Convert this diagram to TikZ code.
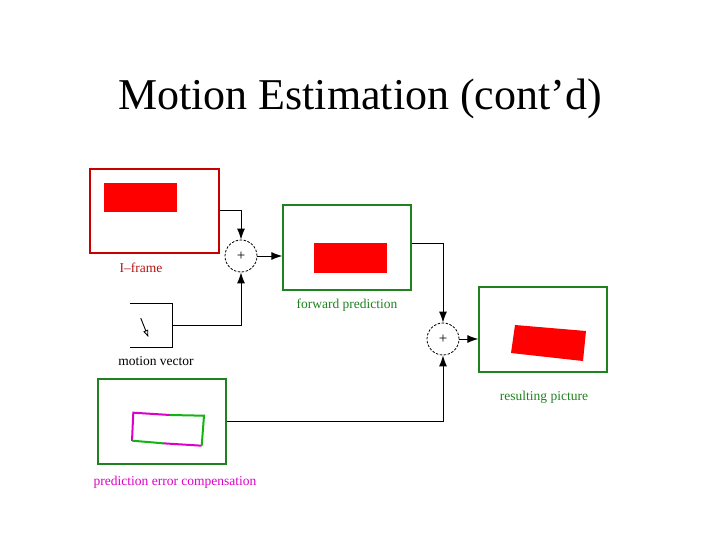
\documentclass[tikz,border=0pt]{standalone}
\usepackage{fontspec}
\setmainfont{Liberation Serif}
\usetikzlibrary{arrows.meta}
\definecolor{fgreen}{RGB}{30,130,30}
\definecolor{fred}{RGB}{255,0,0}
\definecolor{dred}{RGB}{200,0,0}
\definecolor{lblred}{RGB}{180,20,20}
\definecolor{mag}{RGB}{220,0,200}
\tikzset{
  frame/.style={draw, line width=1.3pt, minimum width=128pt, minimum height=85pt, inner sep=0pt},
  summer/.style={circle, draw, dashed, dash pattern=on 2.5pt off 1.5pt, line width=0.8pt, minimum size=32pt, inner sep=0pt, font=\fontsize{15}{15}\selectfont},
  conn/.style={line width=1pt, -{Latex[length=11pt,width=8pt]}},
  plain/.style={line width=1pt},
  lbl/.style={font=\fontsize{13.5}{13.5}\selectfont, inner sep=0pt}
}
\begin{document}
\begin{tikzpicture}[x=1pt,y=-1pt]
\useasboundingbox (0,0) rectangle (720,540);
\node[font=\fontsize{44}{44}\selectfont] (title) at (360,99) {Motion Estimation (cont’d)};
% I-frame
\node[frame, draw=dred, minimum width=129pt, minimum height=84pt] (iframe) at (154.5,211) {};
\fill[fred] (104,183) rectangle (177,212);
\node[lbl, text=lblred] (ilbl) at (141,268) {I–frame};
% forward prediction
\node[frame, draw=fgreen] (fwd) at (347,247.5) {};
\fill[fred] (314,243) rectangle (387,273);
\node[lbl, text=fgreen] (flbl) at (347,305) {forward prediction};
% motion vector
\node[minimum width=42pt, minimum height=43pt, inner sep=0pt] (mv) at (151,325.5) {};
\draw[plain] (mv.north west) -- (mv.north east) -- (mv.south east) -- (mv.south west);
\draw[line width=0.9pt, -{Triangle[open,length=7pt,width=5pt]}] (140.7,318) -- (148.3,337);
\node[lbl] (mvlbl) at (156,361) {motion vector};
% summers
\node[summer] (s1) at (241,256) {+};
\node[summer] (s2) at (443,339) {+};
% resulting picture
\node[frame, draw=fgreen] (res) at (543,329.5) {};
\fill[fred] (515,325) -- (586,331) -- (583,361) -- (511,353) -- cycle;
\node[lbl, text=fgreen] (rlbl) at (544,397) {resulting picture};
% prediction error compensation
\node[frame, draw=fgreen] (pred) at (162,421.5) {};
\draw[mag, line width=2pt] (170,415) -- (133.3,412.7) -- (132,441);
\draw[mag, line width=2pt] (163,443.3) -- (201.7,445.7);
\draw[fgreen!60!green, line width=2pt] (170,415) -- (204,415.7) -- (201.7,445.7);
\draw[fgreen!60!green, line width=2pt] (132.3,440.7) -- (163,443.3);
\node[lbl, text=mag] (plbl) at (175,482) {prediction error compensation};
% connectors
\draw[conn] (iframe.east) -| (s1.north);
\draw[conn] (mv.east) -| (s1.south);
\draw[conn] (s1.east) -- (fwd.west |- s1.east);
\draw[conn] ([yshift=4.5pt]fwd.east) -| (s2.north);
\draw[conn] (pred.east) -| (s2.south);
\draw[conn] (s2.east) -- (res.west |- s2.east);
\end{tikzpicture}
\end{document}
